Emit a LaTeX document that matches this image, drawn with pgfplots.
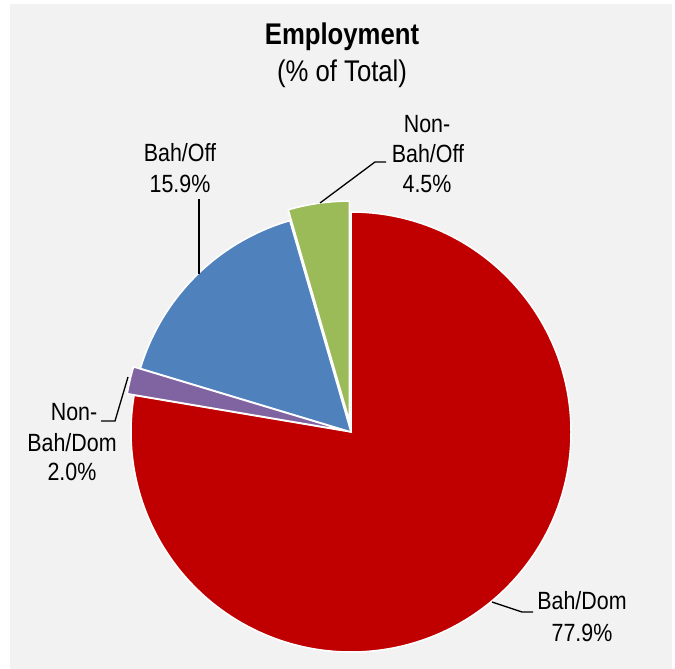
\documentclass[border=0pt]{standalone}
\usepackage{pgfplots}
\pgfplotsset{compat=1.18}
\usepackage{pgfplotstable}
\usepackage{fontspec}
\setmainfont{Liberation Sans}[FakeStretch=0.86]
\definecolor{redc}{HTML}{C00000}
\definecolor{purc}{HTML}{8064A2}
\definecolor{bluc}{HTML}{4F81BD}
\definecolor{grnc}{HTML}{9BBB59}
\definecolor{bgc}{HTML}{F2F2F2}
\begin{document}
\begin{tikzpicture}
\pgfplotstableread{
label value
BahDom 77.9
NonBahDom 2.0
BahOff 15.9
NonBahOff 4.5
}\pietable
\pgfplotstablegetelem{0}{value}\of\pietable\let\vA\pgfplotsretval
\pgfplotstablegetelem{1}{value}\of\pietable\let\vB\pgfplotsretval
\pgfplotstablegetelem{2}{value}\of\pietable\let\vC\pgfplotsretval
\pgfplotstablegetelem{3}{value}\of\pietable\let\vD\pgfplotsretval
\pgfmathsetmacro\tot{\vA+\vB+\vC+\vD}
\pgfmathsetmacro\aA{90}
\pgfmathsetmacro\aB{\aA-360*(\vA/\tot)}
\pgfmathsetmacro\aC{\aB-360*(\vB/\tot)}
\pgfmathsetmacro\aD{\aC-360*(\vC/\tot)}
\pgfmathsetmacro\aE{\aD-360*(\vD/\tot)}
\pgfmathsetmacro\mB{(\aB+\aC)/2}
\pgfmathsetmacro\mD{(\aD+\aE)/2}
\pgfmathsetmacro\cxB{351+7*cos(\mB)}
\pgfmathsetmacro\cyB{237+7*sin(\mB)}
\pgfmathsetmacro\cxD{351+11*cos(\mD)}
\pgfmathsetmacro\cyD{237+11*sin(\mD)}
\begin{axis}[
  scale only axis, width=675bp, height=669bp,
  xmin=0, xmax=675, ymin=0, ymax=669,
  hide axis, clip=false]
\path (axis cs:0,0) rectangle (axis cs:675,669);
\fill[bgc] (axis cs:10,0) rectangle (axis cs:672,665);
% slices
\filldraw[fill=redc, draw=white, line width=1.5bp] (axis cs:351,237) -- ++(\aA:220bp) arc[start angle=\aA, end angle=\aB, radius=220bp] -- cycle;
\filldraw[fill=bluc, draw=white, line width=1.5bp] (axis cs:351,237) -- ++(\aC:220bp) arc[start angle=\aC, end angle=\aD, radius=220bp] -- cycle;
\filldraw[fill=purc, draw=white, line width=1.5bp] (axis cs:\cxB,\cyB) -- ++(\aB:220bp) arc[start angle=\aB, end angle=\aC, radius=220bp] -- cycle;
\filldraw[fill=grnc, draw=white, line width=1.5bp] (axis cs:\cxD,\cyD) -- ++(\aD:220bp) arc[start angle=\aD, end angle=\aE, radius=220bp] -- cycle;
% leader lines
\addplot[black, line width=1.3bp, mark=none] coordinates {(199,470) (199,395)};
\addplot[black, line width=1.3bp, mark=none] coordinates {(320,466) (375,507) (386,507)};
\addplot[black, line width=1.3bp, mark=none] coordinates {(128,292) (115,248) (101,248)};
\addplot[black, line width=1.3bp, mark=none] coordinates {(492,67) (522,57) (533,57)};
% title
\node[anchor=base, font=\fontsize{30}{36}\selectfont\bfseries] at (axis cs:342,624) {Employment};
\node[anchor=base, font=\fontsize{30}{36}\selectfont] at (axis cs:342,587) {(\% of Total)};
% labels
\begin{scope}[every node/.style={anchor=base, font=\fontsize{25}{30}\selectfont}]
\node at (axis cs:180,507) {Bah/Off};
\node at (axis cs:180,476) {15.9\%};
\node at (axis cs:427,536) {Non-};
\node at (axis cs:428,506) {Bah/Off};
\node at (axis cs:427,476) {4.5\%};
\node at (axis cs:74,248) {Non-};
\node at (axis cs:72,217) {Bah/Dom};
\node at (axis cs:72,188) {2.0\%};
\node at (axis cs:582,59) {Bah/Dom};
\node at (axis cs:582,28) {77.9\%};
\end{scope}
\end{axis}
\end{tikzpicture}
\end{document}
